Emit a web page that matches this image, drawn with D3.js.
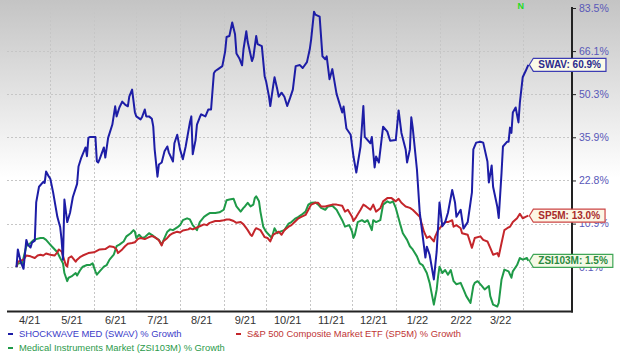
<!DOCTYPE html>
<html><head><meta charset="utf-8">
<script src="https://cdn.jsdelivr.net/npm/d3@7"></script>
<style>html,body{margin:0;padding:0;background:#fff;}svg{display:block;font-family:"Liberation Sans",Arial,sans-serif;}</style>
</head><body>
<svg id="chart" width="620" height="356"></svg>
<script>
// ---------- data ----------
const yTickValues = [83.5, 66.1, 50.3, 35.9, 22.8, 10.9, 0.1];
const yTickLabels = ["83.5%", "66.1%", "50.3%", "35.9%", "22.8%", "10.9%", "0.1%"];
const monthLabels = ["4/21","5/21","6/21","7/21","8/21","9/21","10/21","11/21","12/21","1/22","2/22","3/22"];

const swavDates = ["21-04-07","21-04-08","21-04-10","21-04-12","21-04-14","21-04-15","21-04-17","21-04-18","21-04-20","21-04-21","21-04-23","21-04-26","21-04-27","21-04-28","21-04-30",
"21-05-01","21-05-03","21-05-06","21-05-07","21-05-08","21-05-09","21-05-10","21-05-11","21-05-13","21-05-15","21-05-17","21-05-20","21-05-21","21-05-23","21-05-26","21-05-27","21-05-28","21-05-29",
"21-06-02","21-06-03","21-06-04","21-06-05","21-06-08","21-06-09","21-06-11","21-06-14","21-06-16","21-06-17","21-06-19","21-06-21","21-06-23","21-06-25","21-06-26","21-06-28","21-06-30",
"21-07-01","21-07-04","21-07-05","21-07-07","21-07-08","21-07-10","21-07-12","21-07-13","21-07-14","21-07-16","21-07-17","21-07-19","21-07-21","21-07-23","21-07-24","21-07-27","21-07-28","21-07-30",
"21-08-01","21-08-03","21-08-05","21-08-08","21-08-09","21-08-10","21-08-12","21-08-13","21-08-15","21-08-16","21-08-19","21-08-21","21-08-23","21-08-25","21-08-26","21-08-28","21-08-31",
"21-09-02","21-09-03","21-09-05","21-09-07","21-09-09","21-09-10","21-09-12","21-09-14","21-09-15","21-09-17","21-09-18","21-09-21","21-09-22","21-09-24","21-09-25","21-09-28","21-09-30",
"21-10-01","21-10-03","21-10-04","21-10-06","21-10-07","21-10-09","21-10-10","21-10-12","21-10-14","21-10-16","21-10-18","21-10-20","21-10-22","21-10-25","21-10-27","21-10-30",
"21-11-01","21-11-02","21-11-04","21-11-05","21-11-08","21-11-10","21-11-12","21-11-13","21-11-15","21-11-17","21-11-20","21-11-24","21-11-25","21-11-27","21-11-30",
"21-12-02","21-12-04","21-12-07","21-12-09","21-12-10","21-12-14","21-12-15","21-12-17","21-12-18","21-12-20","21-12-23","21-12-26","21-12-28",
"22-01-01","22-01-03","22-01-05","22-01-08","22-01-09","22-01-11","22-01-12","22-01-13","22-01-16","22-01-18","22-01-22","22-01-23","22-01-25","22-01-28","22-01-30",
"22-02-01","22-02-03","22-02-05","22-02-07","22-02-10","22-02-12","22-02-13","22-02-16","22-02-18","22-02-21","22-02-23","22-02-24","22-02-25","22-02-27",
"22-03-02","22-03-04","22-03-07","22-03-08","22-03-10","22-03-11","22-03-14","22-03-15","22-03-17","22-03-18","22-03-21","22-03-22","22-03-23","22-03-24","22-03-25","22-03-27","22-03-29","22-03-30",
"22-04-01","22-04-03","22-04-05"];
const swavValues = [0,4.3,1.3,-0.4,6.7,5.5,4.8,6.0,6.5,16.6,21.0,22.4,22.1,25.4,23.9,
23.3,19.4,12.7,11.3,10.0,6.7,1.8,17.4,11.3,13.8,18.1,21.8,26.9,29.6,32.7,30.0,35.7,36.0,
36.0,28.5,28.1,29.1,32.7,29.6,35.7,40.0,46.1,42.7,45.7,47.7,46.7,46.1,49.4,51.9,44.0,
42.7,41.7,42.4,45.0,42.7,42.7,41.9,39.4,32.1,23.9,27.5,28.1,31.5,33.0,31.2,28.4,34.0,36.7,
32.1,29.1,33.0,40.7,42.7,30.6,35.0,40.0,42.4,43.4,42.7,45.0,45.0,57.8,58.6,59.3,60.4,
66.0,71.6,72.0,77.5,72.7,65.2,63.4,60.7,66.8,73.9,69.6,62.3,63.8,72.0,68.8,68.0,56.7,
54.9,49.7,46.2,53.0,56.3,51.9,49.4,50.8,49.4,46.2,48.9,51.9,60.4,60.8,59.7,61.9,
66.8,70.8,81.9,80.7,79.9,64.1,63.0,64.1,55.6,59.3,50.4,44.0,46.0,38.7,36.7,
29.9,25.1,33.0,46.2,36.0,34.0,36.0,26.6,29.9,28.1,39.3,37.7,34.8,
35.0,44.7,37.3,32.1,28.1,32.1,42.4,39.0,26.0,13.8,2.3,5.0,3.0,-2.9,3.8,
16.6,10.2,11.3,13.8,20.1,16.6,12.7,14.6,9.6,11.3,16.6,19.4,32.1,34.2,
34.5,34.2,28.4,22.2,27.2,21.0,15.4,12.4,25.1,33.0,34.5,34.5,39.0,37.3,44.0,45.7,40.7,47.4,
56.3,58.5,60.9];

const sp5mDates = ["21-04-07","21-04-08","21-04-12","21-04-14","21-04-17","21-04-20","21-04-22","21-04-24","21-04-26","21-04-28",
"21-05-01","21-05-04","21-05-06","21-05-07","21-05-09","21-05-12","21-05-13","21-05-14","21-05-16","21-05-19","21-05-20","21-05-22","21-05-24","21-05-28",
"21-06-01","21-06-05","21-06-09","21-06-12","21-06-15","21-06-17","21-06-18","21-06-21","21-06-23","21-06-25","21-06-28","21-06-30",
"21-07-02","21-07-04","21-07-07","21-07-10","21-07-12","21-07-14","21-07-17","21-07-19","21-07-20","21-07-23","21-07-25","21-07-27","21-07-30",
"21-08-01","21-08-03","21-08-07","21-08-08","21-08-10","21-08-15","21-08-18","21-08-20","21-08-22","21-08-26","21-08-29",
"21-09-01","21-09-03","21-09-05","21-09-08","21-09-10","21-09-13","21-09-15","21-09-17","21-09-18","21-09-20","21-09-21","21-09-23","21-09-24","21-09-27","21-09-29","21-09-30",
"21-10-02","21-10-04","21-10-05","21-10-06","21-10-08","21-10-10","21-10-12","21-10-14","21-10-17","21-10-19","21-10-22","21-10-24","21-10-26","21-10-29","21-10-31",
"21-11-02","21-11-05","21-11-07","21-11-09","21-11-12","21-11-14","21-11-17","21-11-20","21-11-24","21-11-26","21-11-28",
"21-12-01","21-12-02","21-12-04","21-12-07","21-12-09","21-12-11","21-12-14","21-12-16","21-12-18","21-12-21","21-12-23","21-12-26","21-12-29",
"22-01-01","22-01-03","22-01-05","22-01-08","22-01-11","22-01-13","22-01-18","22-01-21","22-01-23","22-01-25","22-01-28","22-01-29","22-01-31",
"22-02-03","22-02-05","22-02-07","22-02-10","22-02-11","22-02-13","22-02-16","22-02-17","22-02-21","22-02-24","22-02-26",
"22-03-02","22-03-04","22-03-07","22-03-09","22-03-11","22-03-14","22-03-15","22-03-17","22-03-19","22-03-21","22-03-23","22-03-25","22-03-28","22-03-30",
"22-04-01","22-04-03","22-04-05"];
const sp5mValues = [0,1.3,1.8,2.8,2.6,2.2,2.8,3.0,2.8,3.3,
3.0,2.8,3.6,4.3,3.8,0.5,0.1,2.2,2.6,1.3,1.8,2.4,2.8,3.4,
3.6,4.3,4.4,5.1,4.9,4.3,3.4,4.3,5.1,5.7,5.9,6.1,
6.9,7.2,6.9,7.4,7.7,7.4,6.6,5.3,6.3,7.2,8.0,8.4,8.8,
8.6,9.1,9.4,9.7,9.4,10.2,10.7,10.5,11.1,11.6,11.6,
11.8,12.0,12.0,11.6,11.1,11.3,10.7,9.7,9.2,8.0,7.7,9.2,9.7,9.2,8.0,7.4,
7.2,6.3,7.2,8.0,8.4,8.8,8.0,9.2,10.1,10.5,11.6,12.3,12.7,13.2,14.6,
16.0,16.5,16.5,15.5,15.5,15.7,16.0,16.0,15.7,14.1,14.6,
12.7,11.6,12.7,14.6,16.0,15.5,14.6,16.0,14.1,15.0,16.9,17.8,17.8,
16.9,17.6,16.5,15.5,15.1,14.6,12.7,8.8,7.2,7.6,6.3,7.6,9.2,
10.5,11.3,11.3,11.8,10.1,10.5,9.7,8.4,8.0,4.7,7.2,
7.6,6.7,6.3,4.7,3.0,3.4,2.6,5.9,9.2,9.7,10.1,11.3,12.3,13.5,
12.3,12.7,13.0];

const zsiDates = ["21-04-07","21-04-08","21-04-11","21-04-12","21-04-14","21-04-17","21-04-19","21-04-21","21-04-24","21-04-26","21-04-28","21-04-30",
"21-05-02","21-05-06","21-05-08","21-05-10","21-05-11","21-05-13","21-05-14","21-05-16","21-05-19","21-05-20","21-05-22","21-05-24","21-05-27","21-05-29","21-05-31",
"21-06-02","21-06-03","21-06-05","21-06-08","21-06-10","21-06-12","21-06-15","21-06-17","21-06-19","21-06-22","21-06-24","21-06-27","21-06-29","21-06-30",
"21-07-01","21-07-03","21-07-05","21-07-07","21-07-10","21-07-12","21-07-14","21-07-17","21-07-19","21-07-21","21-07-23","21-07-25","21-07-27","21-07-30",
"21-08-01","21-08-03","21-08-06","21-08-08","21-08-10","21-08-13","21-08-15","21-08-18","21-08-20","21-08-22","21-08-26","21-08-29",
"21-09-01","21-09-03","21-09-05","21-09-08","21-09-10","21-09-13","21-09-15","21-09-16","21-09-18","21-09-20","21-09-22","21-09-23","21-09-24","21-09-26","21-09-27","21-09-29",
"21-10-01","21-10-03","21-10-05","21-10-07","21-10-09","21-10-11","21-10-14","21-10-17","21-10-19","21-10-22","21-10-24","21-10-26","21-10-29","21-10-31",
"21-11-02","21-11-05","21-11-07","21-11-09","21-11-12","21-11-14","21-11-17","21-11-20","21-11-22","21-11-24","21-11-26","21-11-29",
"21-12-01","21-12-02","21-12-03","21-12-05","21-12-08","21-12-10","21-12-12","21-12-15","21-12-16","21-12-18","21-12-21","21-12-23","21-12-26","21-12-28","21-12-30",
"22-01-01","22-01-04","22-01-06","22-01-09","22-01-11","22-01-13","22-01-16","22-01-18","22-01-20","22-01-23","22-01-25","22-01-28","22-01-30","22-01-31",
"22-02-01","22-02-03","22-02-05","22-02-07","22-02-09","22-02-11","22-02-13","22-02-16","22-02-18","22-02-20","22-02-23","22-02-25","22-02-26","22-02-28",
"22-03-03","22-03-05","22-03-08","22-03-09","22-03-11","22-03-14","22-03-15","22-03-17","22-03-19","22-03-22","22-03-24","22-03-25","22-03-28","22-03-30",
"22-04-01","22-04-04","22-04-05"];
const zsiValues = [0,0.9,0.9,2.2,5.1,5.9,6.6,6.9,7.2,7.2,6.7,5.9,
5.1,3.6,2.2,0.9,-1.4,-3.3,-2.5,-2.2,-1.4,-2.0,-0.8,0.1,0.5,0.5,0.9,
-1.0,-1.8,-1.0,0.1,0.5,1.8,3.0,5.1,5.5,6.3,7.6,8.4,9.2,8.8,
7.2,8.0,7.2,7.4,8.4,8.0,7.4,6.7,5.5,7.2,8.8,9.4,9.2,9.9,
10.5,11.8,12.3,12.0,10.5,9.2,11.3,12.7,13.2,13.7,13.7,13.9,
14.6,17.2,17.4,17.6,15.5,14.1,15.1,15.5,16.5,15.5,16.0,17.8,18.3,16.9,14.1,10.1,
8.8,8.0,7.2,9.7,8.4,8.8,9.2,10.9,11.3,12.3,12.7,13.2,14.1,16.0,
16.5,16.6,16.0,15.1,14.6,15.5,15.7,14.6,13.2,11.8,10.1,10.5,
8.8,7.2,8.0,11.3,11.8,11.3,11.8,9.2,11.8,11.3,11.8,16.0,16.9,16.5,16.9,
15.1,10.9,8.4,6.7,5.1,4.3,2.6,0.9,0.5,-1.4,-3.7,-8.6,-5.2,-2.2,
0.1,-1.4,-0.7,-1.8,-0.7,-3.3,-4.0,-3.7,-5.2,-6.7,-8.2,-4.4,-3.7,-3.3,
-4.4,-5.2,-4.4,-6.7,-8.6,-9.0,-8.2,-2.9,-0.6,-1.0,-2.5,-1.0,0.5,2.2,
1.8,2.2,1.5];

const seriesNames = ["SHOCKWAVE MED (SWAV) % Growth", "S&P 500 Composite Market ETF (SP5M) % Growth", "Medical Instruments Market (ZSI103M) % Growth"];
const seriesTags = ["SWAV", "SP5M", "ZSI103M"];

// ---------- drawing ----------
const parse = d3.timeParse("%y-%m-%d");
const svg = d3.select("#chart");
const W = 620, H = 356;
const OFF = 107.9; // axis offset of the log scale

const defs = svg.append("defs");
const grad = defs.append("linearGradient").attr("id","bg").attr("x1",0).attr("y1",0).attr("x2",0).attr("y2",1);
grad.append("stop").attr("offset","0%").attr("stop-color","#c4c4c4");
grad.append("stop").attr("offset","50%").attr("stop-color","#ffffff");
grad.append("stop").attr("offset","100%").attr("stop-color","#ffffff");
svg.append("rect").attr("width",W).attr("height",H).attr("fill","url(#bg)");

const plot = {left: 7, right: 572, top: 8, bottom: 311.5};
const x = d3.scaleTime().domain([new Date(2021,3,1), new Date(2022,3,1)]).range([8, 522.7]);
const yLog = d3.scaleLog().domain([0.1 + OFF, 83.5 + OFF]).range([266.7, 8]);
const y = v => yLog(v + OFF);

// grid
const grid = svg.append("g").attr("stroke","#c6c6c6").attr("stroke-dasharray","2,2").attr("stroke-width",1);
yTickValues.forEach(v => {
  grid.append("line").attr("x1",plot.left).attr("x2",plot.right).attr("y1",Math.round(y(v))+0.5).attr("y2",Math.round(y(v))+0.5);
});
d3.timeMonth.range(new Date(2021,4,1), new Date(2022,3,2)).forEach(d => {
  grid.append("line").attr("x1",Math.round(x(d))+0.5).attr("x2",Math.round(x(d))+0.5).attr("y1",plot.top).attr("y2",plot.bottom);
});

// series
const colors = ["#1d1da6", "#c4262b", "#1f9a48"];
const series = [
  {dates: swavDates, values: swavValues},
  {dates: sp5mDates, values: sp5mValues},
  {dates: zsiDates, values: zsiValues}
].map((s,i) => ({name: seriesNames[i], tag: seriesTags[i], color: colors[i],
  pts: s.dates.map((d,j) => ({date: parse(d), v: s.values[j]}))}));

const line = d3.line().x(d => x(d.date)).y(d => y(d.v));
[2,1,0].forEach(i => {
  svg.append("path").datum(series[i].pts).attr("d", line)
    .attr("fill","none").attr("stroke", series[i].color).attr("stroke-width",2)
    .attr("stroke-linejoin","round");
});

// axes lines
svg.append("line").attr("x1",plot.left).attr("x2",plot.right+1).attr("y1",plot.bottom).attr("y2",plot.bottom).attr("stroke","#222").attr("stroke-width",2);
svg.append("line").attr("x1",plot.right).attr("x2",plot.right).attr("y1",plot.top-1).attr("y2",plot.bottom+1).attr("stroke","#222").attr("stroke-width",2);

// right axis
const yAxis = d3.axisRight(yLog).tickValues(yTickValues.map(v => v + OFF))
  .tickFormat((d,i) => yTickLabels[i]).tickSize(4).tickPadding(3);
const gy = svg.append("g").attr("transform",`translate(${plot.right},0)`).call(yAxis);
gy.select(".domain").remove();
gy.selectAll(".tick line").attr("stroke","#222");
gy.selectAll(".tick text").attr("fill","#5858b8").attr("font-size","10.5px").attr("font-family","Liberation Sans, Arial, sans-serif");

// bottom axis labels (mid-month)
const mids = monthLabels.map((m,i) => new Date(2021, 3 + i, 16));
const xAxis = d3.axisBottom(x).tickValues(mids).tickFormat((d,i) => monthLabels[i]).tickSize(0).tickPadding(5);
const gx = svg.append("g").attr("transform",`translate(0,${plot.bottom})`).call(xAxis);
gx.select(".domain").remove();
gx.selectAll(".tick text").attr("fill","#333").attr("font-size","11px").attr("font-family","Liberation Sans, Arial, sans-serif");

// N marker
svg.append("text").attr("x", x(new Date(2022,3,1)) - 2).attr("y", 9).attr("text-anchor","middle")
  .attr("fill","#22dd22").attr("font-weight","bold").attr("font-size","9px").text("N");

// end callouts
const calloutStyle = [
  {stroke:"#3c3cb4", fill:"#fbfbe8", text:"#2a2a8c"},
  {stroke:"#cc4444", fill:"#fcf6e4", text:"#a82a2a"},
  {stroke:"#3fa656", fill:"#f4f9e6", text:"#2b8a40"}
];
series.forEach((s,i) => {
  const last = s.pts[s.pts.length-1];
  const cx = x(last.date) + 1, cy = y(last.v);
  const g = svg.append("g");
  const t = g.append("text").attr("x", cx + 9).attr("y", cy + 3.5)
    .attr("font-size","10px").attr("font-weight","bold").attr("fill", calloutStyle[i].text)
    .text(`${s.tag}: ${last.v.toFixed(1)}%`);
  const w = t.node().getComputedTextLength() + 10;
  const h = 13;
  g.insert("path","text").attr("d", `M${cx},${cy} L${cx+4},${cy-h/2} L${cx+4+w},${cy-h/2} L${cx+4+w},${cy+h/2} L${cx+4},${cy+h/2} Z`)
    .attr("fill", calloutStyle[i].fill).attr("stroke", calloutStyle[i].stroke).attr("stroke-width",1.2);
});

// legend
const legendPos = [[8,334],[236,334],[8,348]];
const legendText = ["#3b3bc8", "#c03535", "#2a9a4a"];
series.forEach((s,i) => {
  const [lx,ly] = legendPos[i];
  svg.append("line").attr("x1",lx).attr("x2",lx+5).attr("y1",ly).attr("y2",ly).attr("stroke",s.color).attr("stroke-width",2);
  svg.append("text").attr("x",lx+11).attr("y",ly+3.3).attr("font-size","9.4px").attr("fill",legendText[i]).text(s.name);
});
</script>
</body></html>
